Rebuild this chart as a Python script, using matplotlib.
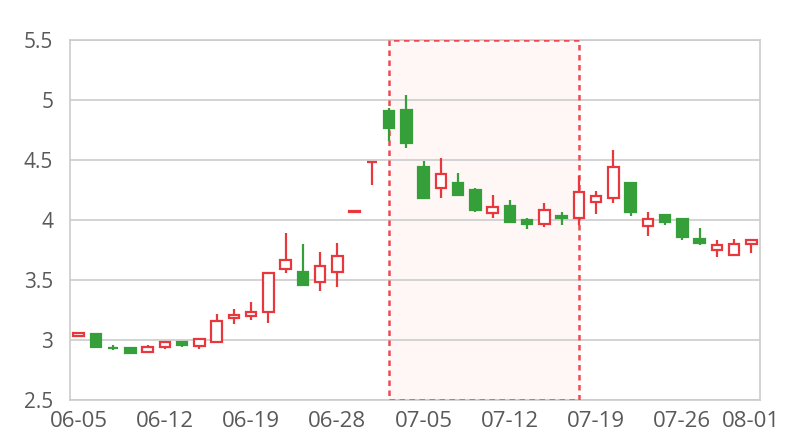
import matplotlib
matplotlib.use('Agg')
import matplotlib.pyplot as plt
from matplotlib.ticker import FormatStrFormatter

# trading days shown on the axis (every 5th + last one get a label)
dates = ['06-05', '06-06', '06-07', '06-08', '06-11', '06-12', '06-13', '06-14',
         '06-15', '06-18', '06-19', '06-20', '06-21', '06-22', '06-25', '06-28',
         '06-29', '07-02', '07-03', '07-04', '07-05', '07-06', '07-09', '07-10',
         '07-11', '07-12', '07-13', '07-16', '07-17', '07-18', '07-19', '07-20',
         '07-23', '07-24', '07-25', '07-26', '07-27', '07-30', '07-31', '08-01']

opens = [3.03, 3.05, 2.935, 2.935, 2.90, 2.94, 2.985, 2.95, 2.985, 3.18,
         3.20, 3.23, 3.59, 3.565, 3.48, 3.57, 4.07, 4.48, 4.91, 4.915,
         4.44, 4.265, 4.305, 4.25, 4.055, 4.115, 4.00, 3.965, 4.035, 4.015,
         4.15, 4.18, 4.305, 3.95, 4.045, 4.005, 3.845, 3.75, 3.71, 3.80]
closes = [3.055, 2.945, 2.93, 2.895, 2.945, 2.98, 2.955, 3.005, 3.16, 3.205,
          3.235, 3.555, 3.67, 3.455, 3.62, 3.70, 4.07, 4.48, 4.765, 4.64,
          4.185, 4.385, 4.205, 4.085, 4.105, 3.985, 3.97, 4.085, 4.02, 4.23,
          4.20, 4.445, 4.065, 4.005, 3.985, 3.855, 3.805, 3.79, 3.80, 3.83]
highs = [3.065, 3.05, 2.955, 2.935, 2.96, 2.985, 2.99, 3.02, 3.22, 3.26,
         3.32, 3.555, 3.89, 3.80, 3.73, 3.81, 4.07, 4.48, 4.93, 5.04,
         4.49, 4.52, 4.39, 4.27, 4.21, 4.17, 4.02, 4.145, 4.065, 4.37,
         4.24, 4.58, 4.32, 4.07, 4.05, 4.005, 3.93, 3.83, 3.84, 3.845]
lows = [3.03, 2.93, 2.915, 2.895, 2.895, 2.925, 2.945, 2.925, 2.975, 3.135,
        3.17, 3.145, 3.555, 3.455, 3.405, 3.445, 4.07, 4.29, 4.66, 4.60,
        4.185, 4.185, 4.20, 4.065, 4.015, 3.98, 3.925, 3.945, 3.955, 3.96,
        4.05, 4.145, 4.035, 3.865, 3.955, 3.835, 3.795, 3.695, 3.71, 3.725]

# highlighted window (candle index from .. to)
highlight = (18, 29)

red = '#e8383d'
green = '#35a03a'
grid_col = '#cccccc'

plt.rcParams['font.family'] = ['Open Sans', 'DejaVu Sans']

fig = plt.figure(figsize=(8, 4.4), dpi=100)
ax = fig.add_axes([0.0875, 0.0909, 0.8625, 0.8182])

# pale band first, then its dashed outline on top of grid and frame
ax.axvspan(highlight[0], highlight[1], facecolor='#fff6f6', edgecolor='none', zorder=0.1)
ax.axvspan(highlight[0], highlight[1], facecolor='none', edgecolor='#ee4a50',
           linestyle=(0, (2.2, 1.8)), linewidth=1.8, zorder=2.6)

width = 0.62
for i in range(len(dates)):
    o, c, h, l = opens[i], closes[i], highs[i], lows[i]
    up = c >= o
    col = red if up else green
    ax.vlines(i, l, h, color=col, linewidth=1.6, zorder=3)
    body = max(abs(c - o), 0.004)
    ax.bar(i, body, bottom=min(o, c), width=width,
           facecolor='white' if up else col, edgecolor=col,
           linewidth=1.6, zorder=4)

ax.set_xlim(-0.5, len(dates) - 0.5)
ax.set_ylim(2.5, 5.5)
ax.set_yticks([2.5, 3, 3.5, 4, 4.5, 5, 5.5])
ax.yaxis.set_major_formatter(FormatStrFormatter('%g'))
tick_idx = list(range(0, len(dates), 5)) + [len(dates) - 1]
ax.set_xticks(tick_idx)
ax.set_xticklabels([dates[i] for i in tick_idx])

ax.grid(axis='y', color=grid_col, linewidth=1.2, zorder=0.5)
ax.set_axisbelow(True)
for s in ax.spines.values():
    s.set_color(grid_col)
    s.set_linewidth(1.2)
ax.tick_params(length=0, labelsize=15, colors='#595959')
ax.tick_params(axis='x', labelsize=16, pad=8)
ax.tick_params(axis='y', pad=12)

fig.savefig('out.png', dpi=100)
